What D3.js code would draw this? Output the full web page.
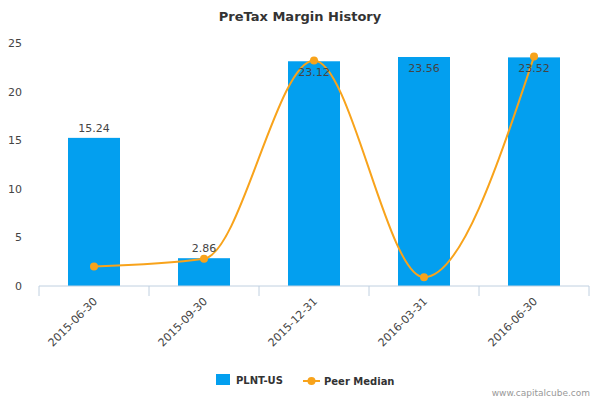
<!DOCTYPE html>
<html><head><meta charset="utf-8">
<script src="https://cdn.jsdelivr.net/npm/d3@7/dist/d3.min.js"></script>
<style>body{margin:0;background:#fff}svg{font-family:"DejaVu Sans",sans-serif}</style>
</head><body><svg id="c" width="600" height="400"></svg>
<script>
const categories = ["2015-06-30","2015-09-30","2015-12-31","2016-03-31","2016-06-30"];
const plntValues = [15.24, 2.86, 23.12, 23.56, 23.52];
const peerMedian = [2.0, 2.8, 23.2, 0.9, 23.6];
const yTicks = [0,5,10,15,20,25];

const svg = d3.select("#c");
const x = d3.scaleBand().domain(categories).range([39,589]);
const y = d3.scaleLinear().domain([0,25]).range([286,43]);
const blue = "#039fef", orange = "#f8a31b";

svg.append("text").attr("x",300).attr("y",21).attr("text-anchor","middle")
  .attr("font-size",13).attr("font-weight","bold").attr("fill","#333").text("PreTax Margin History");

// y labels
svg.selectAll(".yl").data(yTicks).join("text").attr("x",22).attr("y",d=>y(d)+4)
  .attr("text-anchor","end").attr("font-size",11).attr("fill","#444").text(d=>d);

// bars
svg.selectAll(".bar").data(plntValues).join("rect")
  .attr("x",(d,i)=>x(categories[i])+x.bandwidth()/2-26).attr("width",52)
  .attr("y",d=>y(d)).attr("height",d=>y(0)-y(d)).attr("fill",blue);

// axis
const ax = svg.append("g").attr("transform","translate(0,286)");
ax.append("line").attr("x1",39).attr("x2",589).attr("stroke","#c0d0e0");
const bounds = categories.map(c=>x(c)).concat([589]);
ax.selectAll(".tk").data(bounds).join("line").attr("x1",d=>d).attr("x2",d=>d).attr("y1",0).attr("y2",10).attr("stroke","#c0d0e0");
ax.selectAll(".lb").data(categories).join("text")
  .attr("transform",d=>`translate(${x(d)+x.bandwidth()/2+4},${16}) rotate(-45)`)
  .attr("text-anchor","end").attr("font-size",11).attr("fill","#444").text(d=>d);

// line
const line = d3.line().x((d,i)=>x(categories[i])+x.bandwidth()/2).y(d=>y(d)).curve(d3.curveMonotoneX);
svg.append("path").attr("d",line(peerMedian)).attr("fill","none").attr("stroke",orange).attr("stroke-width",2);
svg.selectAll(".pt").data(peerMedian).join("circle")
  .attr("cx",(d,i)=>x(categories[i])+x.bandwidth()/2).attr("cy",d=>y(d)).attr("r",4).attr("fill",orange);

// bar labels
svg.selectAll(".bl").data(plntValues).join("text")
  .attr("x",(d,i)=>x(categories[i])+x.bandwidth()/2)
  .attr("y",d=>d>20 ? y(d)+15 : y(d)-6)
  .attr("text-anchor","middle").attr("font-size",11).attr("fill","#444").text(d=>d.toFixed(2));

// legend
svg.append("rect").attr("x",216).attr("y",374).attr("width",14).attr("height",11).attr("fill",blue);
svg.append("text").attr("x",236).attr("y",384).attr("font-size",10).attr("font-weight","bold").attr("fill","#333").text("PLNT-US");
svg.append("line").attr("x1",303).attr("x2",320).attr("y1",381).attr("y2",381).attr("stroke",orange).attr("stroke-width",2);
svg.append("circle").attr("cx",311.5).attr("cy",381).attr("r",4).attr("fill",orange);
svg.append("text").attr("x",324).attr("y",385).attr("font-size",10).attr("font-weight","bold").attr("fill","#333").text("Peer Median");
svg.append("text").attr("x",590).attr("y",396).attr("text-anchor","end").attr("font-size",9).attr("fill","#999").text("www.capitalcube.com");
</script></body></html>
